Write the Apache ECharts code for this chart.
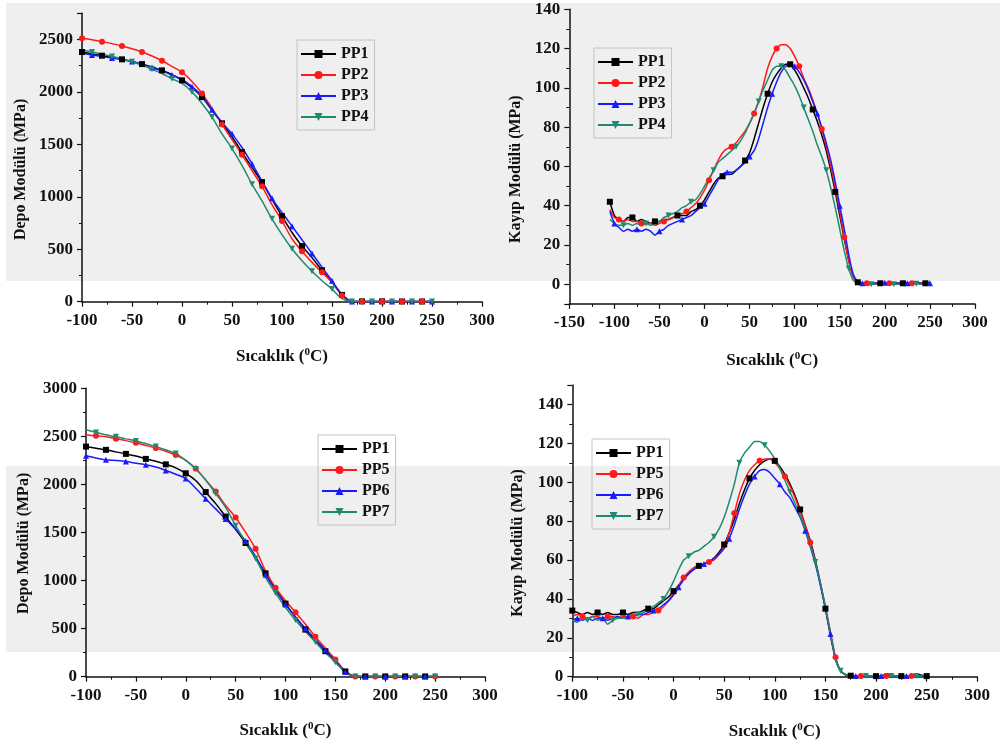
<!DOCTYPE html>
<html><head><meta charset="utf-8">
<script src="https://cdn.jsdelivr.net/npm/echarts@6/dist/echarts.min.js"></script>
<style>html,body{margin:0;padding:0;background:#fff}#c{width:1000px;height:749px}</style>
</head><body><div id="c"></div><script>
// ---------- DATA ----------
// Storage modulus panels: temperatures (°C)
const T_STORAGE = [-100,-90,-80,-70,-60,-50,-40,-30,-20,-10,0,10,20,30,40,50,60,70,80,90,100,110,120,130,140,150,160,170,180,190,200,210,220,230,240,250];
// Panel A (top-left) storage modulus, MPa
const A_PP1 = [2380,2362,2345,2328,2310,2290,2265,2238,2205,2165,2110,2040,1950,1825,1700,1570,1425,1280,1140,975,815,660,530,420,300,185,65,3,3,3,3,2,2,2,2,2];
const A_PP2 = [2512,2496,2479,2460,2438,2412,2380,2342,2297,2243,2188,2100,1985,1845,1690,1545,1400,1250,1100,925,770,600,480,375,280,185,60,3,3,3,3,2,2,2,2,2];
const A_PP3 = [2370,2352,2336,2322,2308,2290,2262,2232,2198,2160,2120,2050,1960,1830,1710,1600,1470,1315,1150,985,850,720,590,460,330,200,70,3,3,3,3,2,2,2,2,2];
const A_PP4 = [2400,2380,2360,2338,2315,2288,2255,2215,2175,2125,2080,2000,1890,1760,1600,1460,1300,1120,960,790,640,505,390,290,200,120,30,3,3,3,3,2,2,2,2,2];
// Panel C (bottom-left) storage modulus, MPa
const C_PP1 = [2393,2376,2359,2338,2317,2295,2265,2240,2208,2172,2115,2040,1920,1800,1665,1530,1390,1235,1075,905,760,620,490,370,265,155,55,3,3,3,3,3,3,3,3,3];
const C_PP5 = [2515,2505,2495,2475,2455,2432,2405,2377,2345,2305,2250,2165,2045,1925,1780,1655,1500,1330,1100,925,790,670,545,415,295,180,60,3,3,3,3,3,3,3,3,3];
const C_PP6 = [2297,2275,2255,2248,2238,2220,2205,2180,2145,2105,2060,1960,1850,1745,1640,1535,1410,1250,1060,900,750,620,500,390,275,165,50,3,3,3,3,3,3,3,3,3];
const C_PP7 = [2567,2540,2515,2495,2473,2452,2425,2393,2360,2320,2250,2160,2045,1905,1760,1570,1400,1230,1030,870,720,590,470,360,250,150,45,3,3,3,3,3,3,3,3,3];

// Panel B (top-right) loss modulus: temperatures (°C)
const T_LOSS_B = [-105,-100,-95,-90,-85,-80,-75,-70,-65,-60,-55,-50,-45,-40,-35,-30,-25,-20,-15,-10,-5,0,5,10,15,20,25,30,35,40,45,50,55,60,65,70,75,80,85,90,95,100,105,110,115,120,125,130,135,140,145,150,155,160,165,170,175,180,185,190,195,200,205,210,215,220,225,230,235,240,245,250];
const B_PP1 = [42,35,33,32,34,34,32,33,32,31,32,32,33,33,34,35,35,35,37,38,40,43,47,51,54,55,56,56,58,60,63,67,74,82,90,97,103,107,110,112,112,109,105,100,95,89,83,76,68,58,47,35,23,12,4,1,0.5,0.5,0.5,0.5,0.5,0.8,0.5,0.5,0.5,0.5,0.5,0.5,0.8,0.5,0.5,0.5];
const B_PP2 = [38,34,33,32,33,32,32,31,31,31,30,31,32,33,34,35,36,37,39,41,44,48,53,58,63,67,69,70,72,75,78,82,87,93,101,110,116,120,122,122,120,116,111,105,100,94,87,79,70,60,49,37,24,12,4,1,0.5,0.5,0.5,0.5,0.5,0.5,0.5,0.5,0.5,0.5,0.5,0.5,0.5,0.5,0.5,0.5];
const B_PP3 = [37,31,29,27,28,27,28,27,28,27,25,27,28,30,31,32,33,34,35,37,39,41,45,49,53,56,57,57,58,60,62,65,68,74,82,90,97,103,108,111,112,111,108,104,99,93,87,80,72,63,52,40,28,15,5,1.5,0.5,0.5,0.5,0.5,0.5,0.8,0.5,0.5,0.5,0.5,0.5,0.5,0.5,0.5,0.5,0.5];
const B_PP4 = [33,31,30,30,31,30,31,30,31,30,31,32,34,35,36,37,39,40,42,43,46,50,54,58,62,64,66,68,70,73,77,82,87,93,99,104,109,111,111,109,105,101,96,90,84,78,71,65,58,49,39,28,17,8,2,0.5,0,-0.5,0,0,0,0.3,0.3,0,0,0,0,0.3,0.3,0,0,0];

// Panel D (bottom-right) loss modulus: temperatures (°C)
const T_LOSS_D = [-100,-95,-90,-85,-80,-75,-70,-65,-60,-55,-50,-45,-40,-35,-30,-25,-20,-15,-10,-5,0,5,10,15,20,25,30,35,40,45,50,55,60,65,70,75,80,85,90,95,100,105,110,115,120,125,130,135,140,145,150,155,160,165,170,175,180,185,190,195,200,205,210,215,220,225,230,235,240,245,250];
const D_PP1 = [34,33,32,33,32,33,32,33,32,32,33,32,33,33,34,35,35,37,39,41,44,47,50,53,56,57,58,59,61,64,68,74,81,89,96,102,106,109,111,112,111,108,104,99,93,86,78,70,60,48,35,21,9,3,1,0.5,0.5,0.3,0.3,0.3,0.3,0.3,1.5,1,0.3,0.3,0.3,0.3,1.2,0.8,0.3];
const D_PP5 = [31,32,31,30,31,31,30,31,31,30,31,31,31,30,32,32,33,34,36,39,43,47,51,54,56,57,58,59,60,63,67,74,84,94,101,106,109,111,112,112,110,107,103,98,92,85,78,69,59,48,36,23,10,3,1,0.5,0.3,0.3,0.3,0.3,0.3,0.3,0.3,0.3,0.3,0.3,0.3,0.3,0.3,0.3,0.3];
const D_PP6 = [29,30,29,30,29,30,30,29,30,31,30,31,31,32,32,33,34,35,37,39,42,46,50,53,55,57,58,59,61,63,66,71,78,86,93,99,103,106,106.5,105,102,99,95,92,87,82,75,67,58,47,35,22,9,3,1,0.5,0.3,0.3,0.3,0.3,0.3,0.3,0.3,0.3,0.3,0.3,0.3,0.3,0.3,0.3,0.3];
const D_PP7 = [29,28,30,29,31,29,30,27,29,30,30,31,32,32,33,34,36,38,40,44,49,55,60,62,64,65,67,69,72,76,82,90,99,110,115,118,121,121,119,116,112,107,101,95,89,83,76,68,59,48,36,22,9,3,1,0.5,0.3,0.3,0.3,0.3,0.3,0.3,0.3,0.3,0.3,0.3,0.3,0.3,0.3,0.3,0.3];

// Axis titles / legends
const X_TITLE = '{n|Sıcaklık (}{s|0}{n|C)}';
const Y_TITLE_STORAGE = 'Depo Modülü (MPa)';
const Y_TITLE_LOSS = 'Kayıp Modülü (MPa)';
const LEGEND_TOP = ['PP1','PP2','PP3','PP4'];
const LEGEND_BOTTOM = ['PP1','PP5','PP6','PP7'];

// ---------- STYLE ----------
const FONT = 'Liberation Serif';
const INK = '#111';
const COLORS = {PP1:'#000000', PP2:'#ff1a1a', PP5:'#ff1a1a', PP3:'#1a1aff', PP6:'#1a1aff', PP4:'#1f8a70', PP7:'#1f8a70'};
const SYMBOLS = {PP1:['rect',0], PP2:['circle',0], PP5:['circle',0], PP3:['triangle',0], PP6:['triangle',0], PP4:['triangle',180], PP7:['triangle',180]};

function xAxis(grid, min, max, gap) {
  return {
    type:'value', gridIndex:grid, min:min, max:max, interval:50,
    name:X_TITLE, nameLocation:'middle', nameGap:gap,
    nameTextStyle:{rich:{
      n:{fontFamily:FONT, fontWeight:'bold', fontSize:17, color:INK, lineHeight:20},
      s:{fontFamily:FONT, fontWeight:'bold', fontSize:11, color:INK, lineHeight:20, verticalAlign:'top', padding:[0,0,8,0]}
    }},
    axisLine:{show:true, onZero:false, lineStyle:{color:INK, width:1.5}},
    axisTick:{show:true, length:5, lineStyle:{color:INK, width:1.2}},
    minorTick:{show:true, splitNumber:2, length:3, lineStyle:{color:INK, width:1}},
    splitLine:{show:false}, minorSplitLine:{show:false},
    axisLabel:{fontFamily:FONT, fontWeight:'bold', fontSize:17, color:INK, margin:10}
  };
}
function yAxis(grid, min, max, interval, title, gap, pad, showFn) {
  const a = {
    type:'value', gridIndex:grid, min:min, max:max,
    name:title, nameLocation:'middle', nameGap:gap, nameRotate:90,
    nameTextStyle:{fontFamily:FONT, fontWeight:'bold', fontSize:16, color:INK, padding:pad},
    axisLine:{show:true, onZero:false, lineStyle:{color:INK, width:1.5}},
    axisTick:{show:true, length:5, lineStyle:{color:INK, width:1.2}},
    minorTick:{show:true, splitNumber:2, length:3, lineStyle:{color:INK, width:1}},
    splitLine:{show:false}, minorSplitLine:{show:false},
    axisLabel:{fontFamily:FONT, fontWeight:'bold', fontSize:17, color:INK, margin:9,
      formatter:function(v){ return showFn(v) ? String(v) : ''; }}
  };
  if (interval) a.interval = interval; else a.splitNumber = 7;
  return a;
}
function series(name, xs, ys, grid, every, offset, smooth) {
  const c = COLORS[name], s = SYMBOLS[name];
  return {
    type:'line', name:name, xAxisIndex:grid, yAxisIndex:grid,
    data: xs.map((t,i)=>({value:[t, ys[i]], symbol: (i % every === offset) ? s[0] : 'none'})),
    symbol:s[0], symbolRotate:s[1], symbolSize:6, showSymbol:true, showAllSymbol:true,
    smooth:smooth, lineStyle:{color:c, width:1.5}, itemStyle:{color:c},
    animation:false, z:3
  };
}
function legend(names, left, top) {
  return {
    orient:'vertical', left:left, top:top, data:names,
    padding:[6,6,5,3], itemGap:5, itemWidth:35, itemHeight:10,
    borderColor:'#c4c4c4', borderWidth:1, backgroundColor:'transparent',
    textStyle:{fontFamily:FONT, fontWeight:'bold', fontSize:16, color:INK},
    selectedMode:false
  };
}

const chart = echarts.init(document.getElementById('c'), null, {renderer:'canvas'});
chart.setOption({
  backgroundColor:'#ffffff',
  animation:false,
  graphic:[
    {type:'rect', z:-10, silent:true, shape:{x:6, y:3, width:994, height:278}, style:{fill:'#efefef'}},
    {type:'rect', z:-10, silent:true, shape:{x:6, y:466, width:994, height:186}, style:{fill:'#efefef'}}
  ],
  grid:[
    {left:82, top:13.2, width:400, height:288.5},
    {left:569.3, top:9.3, width:405.7, height:294.6},
    {left:86, top:388.2, width:399, height:288.5},
    {left:572.3, top:385, width:405, height:291.7}
  ],
  xAxis:[
    xAxis(0, -100, 300, 45),
    xAxis(1, -150, 300, 47),
    xAxis(2, -100, 300, 44),
    xAxis(3, -100, 300, 45)
  ],
  yAxis:[
    yAxis(0, 0, 2750, 500, Y_TITLE_STORAGE, 53, [0,24,0,0], v => v % 500 === 0),
    yAxis(1, -10, 140, null, Y_TITLE_LOSS, 45, [0,25,0,0], v => v >= 0),
    yAxis(2, 0, 3000, 500, Y_TITLE_STORAGE, 54, [0,22,0,0], v => true),
    yAxis(3, 0, 150, 20, Y_TITLE_LOSS, 46, [0,24,0,0], v => v <= 140)
  ],
  legend:[
    legend(LEGEND_TOP, 297, 40),
    legend(LEGEND_TOP, 594, 48),
    legend(LEGEND_BOTTOM, 318, 435),
    legend(LEGEND_BOTTOM, 592, 439)
  ],
  series:[
    series('PP1', T_STORAGE, A_PP1, 0, 2, 0, 0.3),
    series('PP2', T_STORAGE, A_PP2, 0, 2, 0, 0.3),
    series('PP3', T_STORAGE, A_PP3, 0, 2, 1, 0.3),
    series('PP4', T_STORAGE, A_PP4, 0, 2, 1, 0.3),
    series('PP1', T_LOSS_B, B_PP1, 1, 5, 0, 0.2),
    series('PP2', T_LOSS_B, B_PP2, 1, 5, 2, 0.2),
    series('PP3', T_LOSS_B, B_PP3, 1, 5, 1, 0.2),
    series('PP4', T_LOSS_B, B_PP4, 1, 5, 3, 0.2),
    series('PP1', T_STORAGE, C_PP1, 2, 2, 0, 0.3),
    series('PP5', T_STORAGE, C_PP5, 2, 2, 1, 0.3),
    series('PP6', T_STORAGE, C_PP6, 2, 2, 0, 0.3),
    series('PP7', T_STORAGE, C_PP7, 2, 2, 1, 0.3),
    series('PP1', T_LOSS_D, D_PP1, 3, 5, 0, 0.2),
    series('PP5', T_LOSS_D, D_PP5, 3, 5, 2, 0.2),
    series('PP6', T_LOSS_D, D_PP6, 3, 5, 1, 0.2),
    series('PP7', T_LOSS_D, D_PP7, 3, 5, 3, 0.2)
  ]
});
</script></body></html>
